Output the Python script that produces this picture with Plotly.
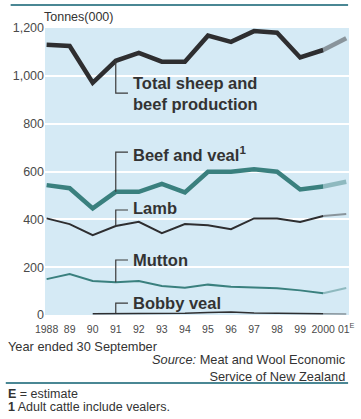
import plotly.graph_objects as go

years = list(range(1988, 2002))
tick_labels = ["1988", "89", "90", "91", "92", "93", "94", "95", "96", "97",
               "98", "99", "2000", "01<sup>E</sup>"]

total = [1130, 1125, 971, 1063, 1096, 1059, 1059, 1168, 1142, 1187, 1180, 1077, 1108, 1157]
beef = [543, 530, 446, 515, 515, 548, 513, 599, 599, 609, 599, 525, 537, 557]
lamb = [404, 380, 334, 372, 390, 342, 380, 375, 359, 404, 403, 389, 414, 422]
mutton = [150, 171, 142, 137, 142, 121, 114, 127, 118, 114, 112, 103, 91, 113]
bobby_years = list(range(1990, 2002))
bobby = [5, 5, 5, 6, 7, 10, 13, 8, 7, 7, 5, 4]

DARK = "#2e2e30"
TEAL = "#3a807e"
BG = "#d5eaf5"

series = [
    (years, total, DARK, 4.5),
    (years, beef, TEAL, 4.5),
    (years, lamb, DARK, 2),
    (years, mutton, TEAL, 2),
    (bobby_years, bobby, DARK, 1.5),
]

fig = go.Figure()
for xs, ys, color, width in series:
    # actual values up to 2000
    fig.add_trace(go.Scatter(x=xs[:-1], y=ys[:-1], mode="lines",
                             line={"color": color, "width": width}, hoverinfo="skip"))
    # 2001 estimate segment, drawn lighter
    fig.add_trace(go.Scatter(x=xs[-2:], y=ys[-2:], mode="lines", opacity=0.45,
                             line={"color": color, "width": width}, hoverinfo="skip"))

# callout brackets from the 1991 point of each line
callouts = [
    (total, 928, "Total sheep and<br>beef production", 928),
    (beef, 681, "Beef and veal<sup>1</sup>", 673),
    (lamb, 439, "Lamb", 447),
    (mutton, 230, "Mutton", 230),
    (bobby[1:], 50, "Bobby veal", 50),
]
idx91 = years.index(1991)
for ys, elbow, label, label_y in callouts:
    y91 = ys[idx91]
    fig.add_shape(type="path",
                  path=f"M 1991,{y91} L 1991,{elbow} L 1991.53,{elbow}",
                  line={"color": "#3a3a3a", "width": 1.2})
    fig.add_annotation(x=1991.68, y=label_y, text=f"<b>{label}</b>", showarrow=False,
                       xanchor="left", yanchor="middle", align="left",
                       font={"size": 16.5, "color": "#333333"})

# horizontal rules
fig.add_shape(type="line", xref="paper", yref="paper", x0=-0.113, x1=0.997,
              y0=1.080, y1=1.080, line={"color": "#4a8794", "width": 2})
fig.add_shape(type="line", xref="paper", yref="paper", x0=-0.129, x1=0.997,
              y0=-0.237, y1=-0.237, line={"color": "#4a8794", "width": 2})

notes = [
    ("Tonnes(000)", -0.01, 1.038, "left", 12.5),
    ("Year ended 30 September", -0.129, -0.111, "left", 12.8),
    ("<i>Source:</i> Meat and Wool Economic<br>Service of New Zealand",
     0.997, -0.185, "right", 12.8),
    ("<b>E</b> = estimate", -0.129, -0.275, "left", 12.5),
    ("<b>1</b> Adult cattle include vealers.", -0.129, -0.321, "left", 12.5),
]
for text, x, y, anchor, size in notes:
    fig.add_annotation(x=x, y=y, xref="paper", yref="paper", text=text,
                       showarrow=False, xanchor=anchor, yanchor="middle", align=anchor,
                       font={"size": size, "color": "#333333"})

fig.update_layout(
    width=361,
    height=419,
    margin={"l": 45, "r": 6, "t": 28, "b": 104},
    paper_bgcolor="white",
    plot_bgcolor=BG,
    showlegend=False,
    font={"family": "Liberation Sans, Arial, sans-serif", "color": "#444444"},
    xaxis={
        "range": [1987.93, 2001.12],
        "tickvals": years,
        "ticktext": tick_labels,
        "showgrid": False,
        "zeroline": False,
        "ticklabelstandoff": 6,
        "tickfont": {"size": 10.5, "color": "#4a4a4a"},
        "fixedrange": True,
    },
    yaxis={
        "range": [0, 1200],
        "tickvals": [0, 200, 400, 600, 800, 1000, 1200],
        "ticktext": ["0", "200", "400", "600", "800", "1,000", "1,200"],
        "gridcolor": "white",
        "gridwidth": 1.5,
        "zeroline": False,
        "tickfont": {"size": 12.5, "color": "#4a4a4a"},
        "fixedrange": True,
    },
)

fig.write_html("out.html", config={"displayModeBar": False},
               post_script="document.body.style.margin='0';")
